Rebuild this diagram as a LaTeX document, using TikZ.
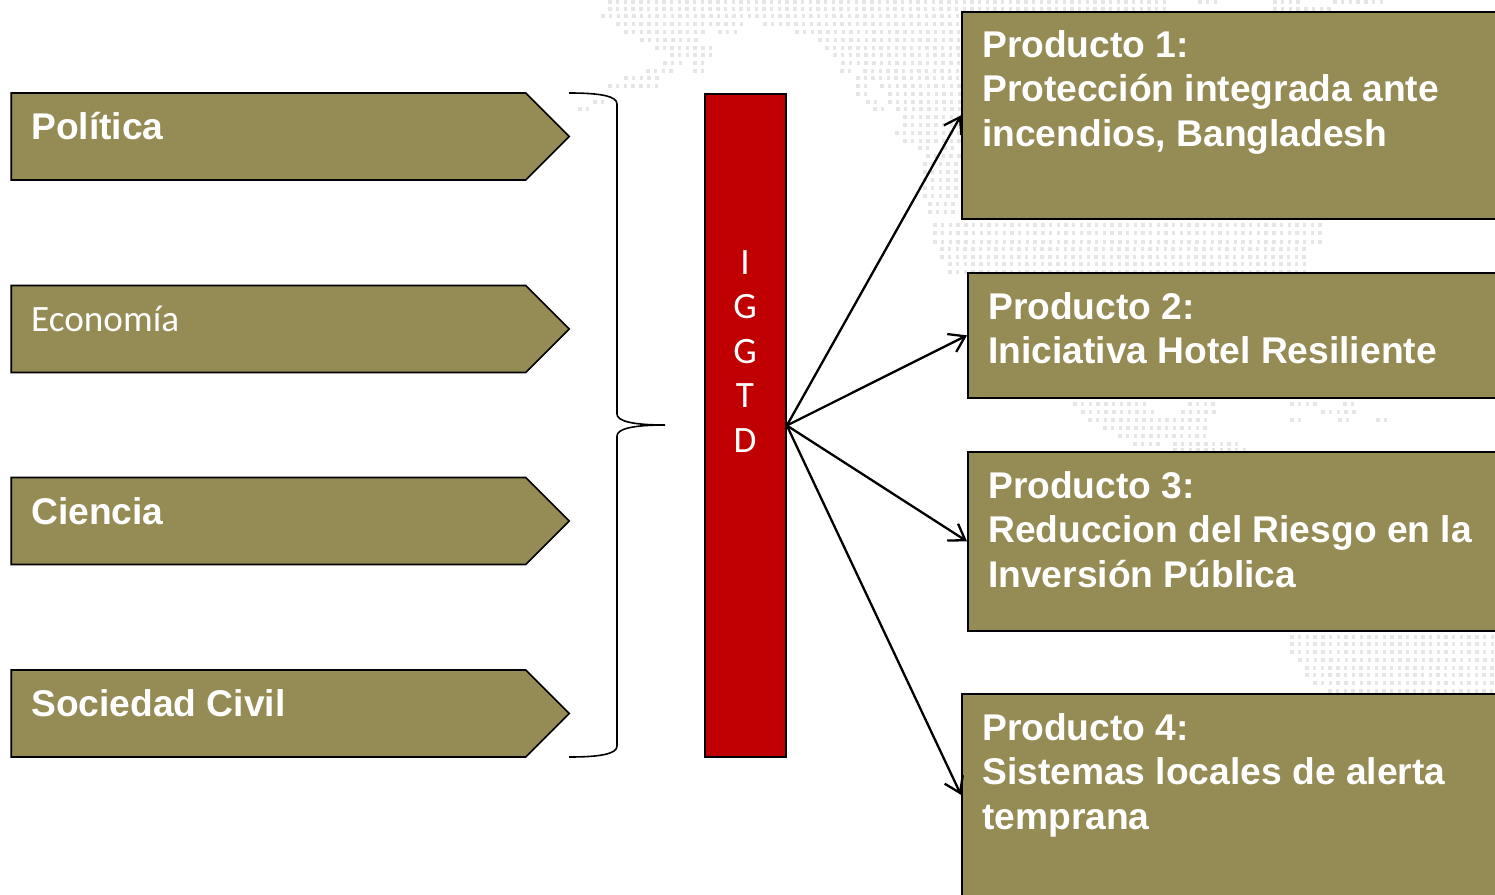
\documentclass[tikz,border=0pt]{standalone}
\usepackage{fontspec}
\setmainfont{Liberation Sans}
\newfontfamily\calibrifont{Carlito}
\usetikzlibrary{shapes.symbols}
\usetikzlibrary{arrows.meta}
\definecolor{olivebox}{HTML}{958B54}
\definecolor{redbar}{HTML}{C00000}
\definecolor{mapdot}{HTML}{E6E6E6}
\tikzset{
    armbox/.style={draw=black, line width=1.7pt, fill=olivebox, signal, signal to=east, signal pointer angle=90, minimum width=558pt, minimum height=87pt, inner sep=0pt},
    prodbox/.style={draw=black, line width=1.7pt, fill=olivebox, rectangle, minimum width=560pt, anchor=north west, inner sep=0pt},
    boldtext/.style={anchor=north west, text=white, inner sep=0pt, font=\fontsize{37.2}{44.6}\selectfont\bfseries, align=left},
    lighttext/.style={anchor=north west, text=white, inner sep=0pt, font=\calibrifont\fontsize{37.2}{44.6}\selectfont, align=left},
    link/.style={draw=black, line width=2.3pt, -{Straight Barb[length=15pt,width=20pt,line width=2.3pt]}},
}
\begin{document}
\begin{tikzpicture}[x=1pt, y=-1pt]
    \clip (0,0) rectangle (1495,894);

    % dotted world map
    \foreach \py/\xa/\xb in {
        2/610/1165, 2/1200/1222, 2/1275/1305, 2/1335/1385, 9/610/1170, 9/1275/1330,
        16/603/960, 24/618/745, 24/765/960, 32/626/705, 32/720/738, 32/797/960,
        40/642/700, 40/820/960, 48/657/664, 48/672/715, 48/827/960, 55/672/715, 55/835/960,
        63/665/683, 63/695/707, 63/843/960, 71/648/675, 71/695/702, 71/842/855, 71/865/960,
        78/626/660, 78/858/865, 78/873/960, 86/610/660, 86/858/868, 86/882/960,
        94/858/868, 94/890/960, 102/595/607, 102/868/875, 102/890/960, 109/580/590, 109/875/882, 109/898/960,
        117/905/960, 125/905/960, 133/897/960, 141/905/960, 148/920/930, 148/945/960, 156/928/960,
        164/925/960, 172/925/960, 180/925/960, 188/925/960, 196/925/960, 204/930/960, 212/930/960,
        225/935/1327, 233/935/1327, 242/935/1320, 249/942/1310, 257/942/1305, 264/950/1310, 272/950/1310,
        404/1075/1150, 404/1190/1218, 404/1292/1320, 404/1345/1352,
        412/1083/1158, 412/1183/1218, 412/1323/1358,
        420/1090/1210, 420/1292/1303, 420/1340/1350, 420/1378/1388,
        428/1105/1210, 436/1120/1205, 444/1135/1160, 444/1175/1240, 450/1175/1245,
        637/1292/1495, 644/1292/1495, 652/1292/1495, 660/1300/1495,
        668/1307/1495, 675/1307/1495, 683/1315/1495, 691/1330/1495}{
        \pgfmathsetmacro{\xc}{\xa+7.7}
        \foreach \px in {\xa,\xc,...,\xb}
            \fill[mapdot] (\px-1.7,\py-1.7) rectangle (\px+1.7,\py+1.7);
    }

    % left column
    \node[armbox] (politica) at (268.5,136.5) {};
    \node[armbox] (economia) at (268.5,329) {};
    \node[armbox] (ciencia) at (268.5,521) {};
    \node[armbox] (sociedad) at (268.5,713.5) {};
    \node[boldtext] (politicatext) at (31,112) {Política};
    \node[lighttext] (economiatext) at (31,306) {Economía};
    \node[boldtext] (cienciatext) at (31,497) {Ciencia};
    \node[boldtext] (sociedadtext) at (31,689) {Sociedad Civil};

    % brace
    \draw[black, line width=1.6pt] (569,93) .. controls (600,93) and (617,96) .. (617,104) -- (617,414)
        .. controls (617,421) and (632,425) .. (665,425)
        .. controls (632,425) and (617,429) .. (617,436) -- (617,746)
        .. controls (617,754) and (600,757) .. (569,757);

    % middle bar
    \node[draw=black, line width=1.7pt, fill=redbar, minimum width=81pt, minimum height=663pt, inner sep=0pt] (iggtd) at (745.5,425.5) {};
    \node[lighttext, anchor=north, align=center] (iggtdtext) at (745,250) {I\\G\\G\\T\\D};

    % right column
    \node[prodbox, minimum height=207pt] (prod1) at (961,11) {};
    \node[prodbox, minimum height=125pt] (prod2) at (967,272) {};
    \node[prodbox, minimum height=179pt] (prod3) at (967,451) {};
    \node[prodbox, minimum height=202pt] (prod4) at (961,693) {};
    \node[boldtext] (prod1text) at (982,30) {Producto 1:\\Protección integrada ante\\incendios, Bangladesh};
    \node[boldtext] (prod2text) at (988,292) {Producto 2:\\Iniciativa Hotel Resiliente};
    \node[boldtext] (prod3text) at (988,471) {Producto 3:\\Reduccion del Riesgo en la\\Inversión Pública};
    \node[boldtext] (prod4text) at (982,713) {Producto 4:\\Sistemas locales de alerta\\temprana};

    \draw[link] (iggtd.east) -- (prod1.west);
    \draw[link] (iggtd.east) -- (prod2.west);
    \draw[link] (iggtd.east) -- (prod3.west);
    \draw[link] (iggtd.east) -- (prod4.west);
\end{tikzpicture}
\end{document}
